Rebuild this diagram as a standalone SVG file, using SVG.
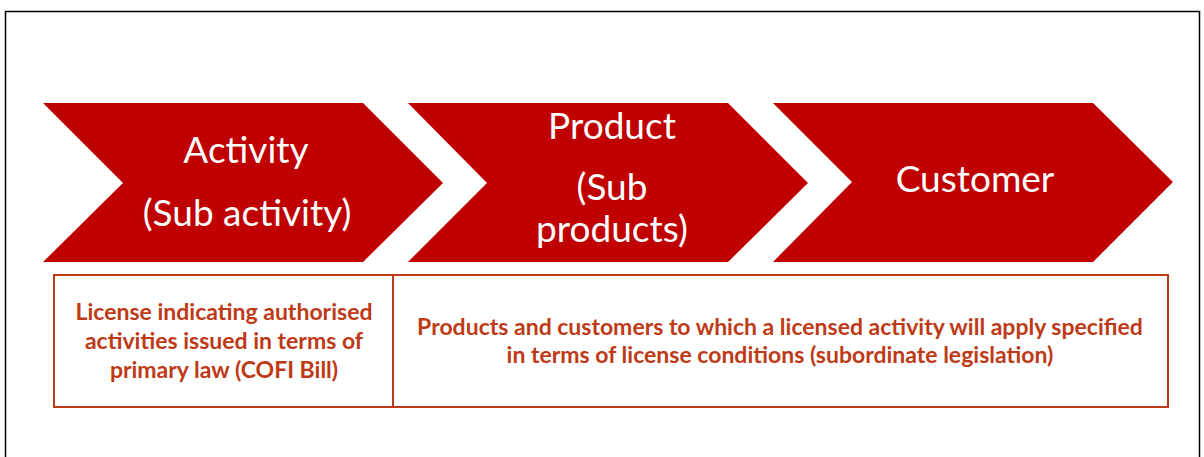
<svg xmlns="http://www.w3.org/2000/svg" width="1204" height="457" viewBox="0 0 1204 457">
  <style>
    .chev { fill: #C00000; }
    .head { fill: #FFFFFF; font-family: Lato, "Open Sans", "Liberation Sans", sans-serif; font-size: 37px; text-anchor: middle; }
    .cell { fill: none; stroke: #BE3A16; stroke-width: 2; }
    .note { fill: #BE3A16; font-family: Lato, "Open Sans", "Liberation Sans", sans-serif; font-size: 23px; font-weight: bold; text-anchor: middle; }
  </style>

  <!-- frame -->
  <rect x="0" y="0" width="1204" height="457" fill="#FFFFFF"/>
  <rect x="5.5" y="11.5" width="1194" height="450" fill="none" stroke="#000000" stroke-width="1.5"/>

  <!-- process chevrons -->
  <g id="activity">
    <polygon class="chev" points="43,103 363,103 443,183 363,262 43,262 123,183"/>
    <text class="head" x="246" y="163">Activity</text>
    <text class="head" x="247" y="226">(Sub activity)</text>
  </g>
  <g id="product">
    <polygon class="chev" points="408,103 728,103 808,183 728,262 408,262 487,183"/>
    <text class="head" x="612" y="139">Product</text>
    <text class="head" x="612" y="200">(Sub</text>
    <text class="head" x="612" y="242">products)</text>
  </g>
  <g id="customer">
    <polygon class="chev" points="773,103 1093,103 1173,182 1093,262 773,262 852,182"/>
    <text class="head" x="975" y="192">Customer</text>
  </g>

  <!-- description table -->
  <g id="licence-cell">
    <rect class="cell" x="54" y="275" width="339" height="132"/>
    <text class="note" x="224" y="320">License indicating authorised</text>
    <text class="note" x="224" y="349">activities issued in terms of</text>
    <text class="note" x="224" y="378">primary law (COFI Bill)</text>
  </g>
  <g id="conditions-cell">
    <rect class="cell" x="393" y="275" width="775" height="132"/>
    <text class="note" x="780" y="335">Products and customers to which a licensed activity will apply specified</text>
    <text class="note" x="780" y="363">in terms of license conditions (subordinate legislation)</text>
  </g>

  <g id="connectors"/>
</svg>
